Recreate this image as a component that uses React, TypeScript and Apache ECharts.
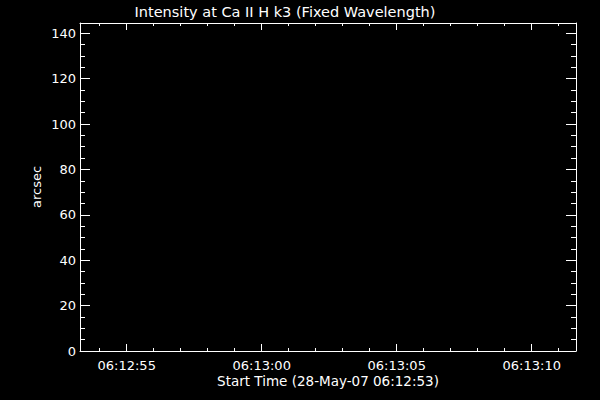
import React, { useEffect, useRef } from "react";
import * as echarts from "echarts";

// ---- data ----
const TITLE = "Intensity at Ca II H k3 (Fixed Wavelength)";
const X_NAME = "Start Time (28-May-07 06:12:53)";
const Y_NAME = "arcsec";
const X_START = "06:12:53.27";
const X_END = "06:13:11.64";
const X_MAJOR = ["06:12:55", "06:13:00", "06:13:05", "06:13:10"];
const X_MINOR = [
  "06:12:54", "06:12:56", "06:12:57", "06:12:58", "06:12:59",
  "06:13:01", "06:13:02", "06:13:03", "06:13:04",
  "06:13:06", "06:13:07", "06:13:08", "06:13:09", "06:13:11",
];
const Y_MIN = 0;
const Y_MAX = 144.5;
const Y_MAJOR = [0, 20, 40, 60, 80, 100, 120, 140];
const Y_MINOR = [
  5, 10, 15, 25, 30, 35, 45, 50, 55, 65, 70, 75, 85, 90, 95,
  105, 110, 115, 125, 130, 135,
];
const intensity: [number, number][] = [];

const toSec = (s: string) => {
  const [h, m, sec] = s.split(":");
  return Number(h) * 3600 + Number(m) * 60 + Number(sec);
};
const pad = (n: number) => String(n).padStart(2, "0");
const fmt = (v: number) => {
  const t = Math.round(v);
  return `${pad(Math.floor(t / 3600))}:${pad(Math.floor((t % 3600) / 60))}:${pad(t % 60)}`;
};

const FONT = "DejaVu Sans";
const WHITE = "#ffffff";

export default function App() {
  const ref = useRef<HTMLDivElement>(null);
  useEffect(() => {
    if (!ref.current) return;
    document.body.style.margin = "0";
    document.body.style.background = "#000";
    const chart = echarts.init(ref.current, undefined, { renderer: "svg" });
    const xmin = toSec(X_START);
    const xmax = toSec(X_END);
    const xMajor = X_MAJOR.map(toSec);
    const xMinor = X_MINOR.map(toSec);
    const line = { show: true, onZero: false, lineStyle: { color: WHITE, width: 1 } };
    const noLine = { show: false, onZero: false };
    const xAxisBase = (gridIndex: number, position: "top" | "bottom", major: boolean, labels: boolean) => ({
      type: "value" as const,
      gridIndex,
      position,
      min: xmin,
      max: xmax,
      axisLine: major ? line : noLine,
      splitLine: { show: false },
      axisTick: {
        show: true,
        inside: true,
        length: major ? 7 : 3,
        customValues: major ? xMajor : xMinor,
        lineStyle: { color: WHITE, width: 1 },
      },
      axisLabel: labels
        ? {
            show: true,
            customValues: xMajor,
            formatter: (v: number) => fmt(v),
            color: WHITE,
            fontFamily: FONT,
            fontSize: 13,
            margin: 8,
          }
        : { show: false },
    });
    const yAxisBase = (gridIndex: number, position: "left" | "right", major: boolean, labels: boolean) => ({
      type: "value" as const,
      gridIndex,
      position,
      min: Y_MIN,
      max: Y_MAX,
      axisLine: major ? line : noLine,
      splitLine: { show: false },
      axisTick: {
        show: true,
        inside: true,
        length: major ? 10 : 5,
        customValues: major ? Y_MAJOR : Y_MINOR,
        lineStyle: { color: WHITE, width: 1 },
      },
      axisLabel: labels
        ? {
            show: true,
            customValues: Y_MAJOR,
            color: WHITE,
            fontFamily: FONT,
            fontSize: 13,
            margin: 4,
          }
        : { show: false },
    });
    const rect = { left: 80, top: 23, width: 496, height: 328, containLabel: false };
    chart.setOption({
      animation: false,
      backgroundColor: "#000000",
      grid: [rect, rect],
      xAxis: [
        xAxisBase(0, "bottom", true, true),
        xAxisBase(0, "top", true, false),
        xAxisBase(1, "bottom", false, false),
        xAxisBase(1, "top", false, false),
      ],
      yAxis: [
        yAxisBase(0, "left", true, true),
        yAxisBase(0, "right", true, false),
        yAxisBase(1, "left", false, false),
        yAxisBase(1, "right", false, false),
      ],
      series: [
        {
          type: "line",
          xAxisIndex: 0,
          yAxisIndex: 0,
          data: intensity,
          showSymbol: false,
          lineStyle: { color: WHITE, width: 1 },
        },
      ],
      graphic: [
        {
          type: "text",
          x: 285,
          y: 12,
          style: {
            text: TITLE,
            fill: WHITE,
            font: `14.5px "${FONT}"`,
            align: "center",
            verticalAlign: "middle",
          },
        },
        {
          type: "text",
          x: 328,
          y: 381,
          style: {
            text: X_NAME,
            fill: WHITE,
            font: `13.5px "${FONT}"`,
            align: "center",
            verticalAlign: "middle",
          },
        },
        {
          type: "text",
          x: 36,
          y: 187,
          rotation: Math.PI / 2,
          style: {
            text: Y_NAME,
            fill: WHITE,
            font: `13px "${FONT}"`,
            align: "center",
            verticalAlign: "middle",
          },
        },
      ],
    });
    return () => chart.dispose();
  }, []);
  return <div ref={ref} style={{ position: "fixed", left: 0, top: 0, width: 600, height: 400 }} />;
}
